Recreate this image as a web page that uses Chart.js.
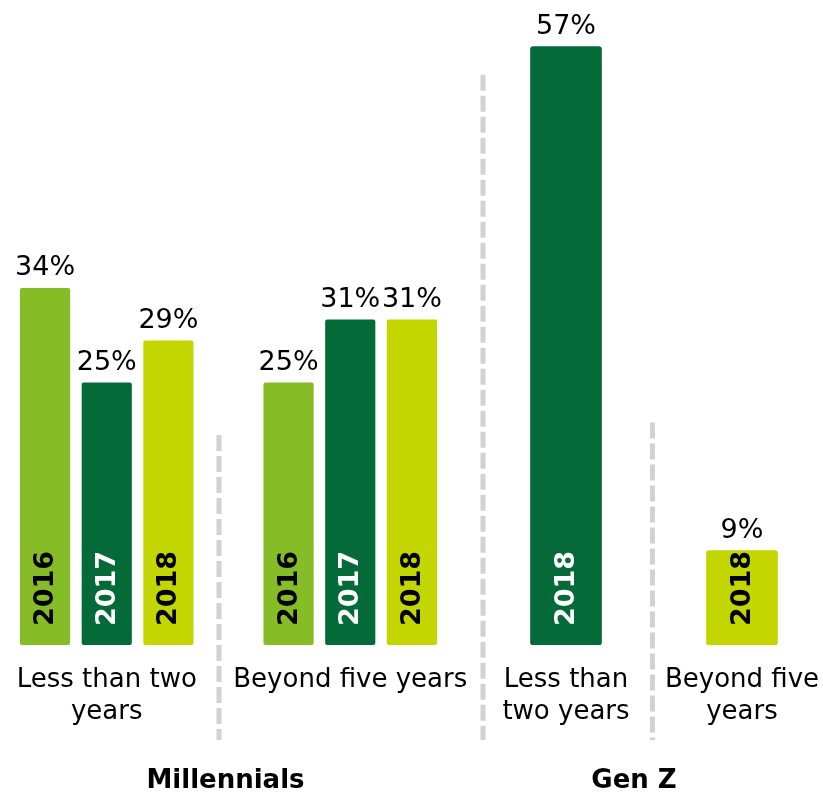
<!DOCTYPE html>
<html>
<head>
<meta charset="utf-8">
<script src="https://cdn.jsdelivr.net/npm/chart.js@4/dist/chart.umd.min.js"></script>
<style>
    body { margin: 0; background: #fff; }
    #wrap { position: relative; width: 823px; height: 794px; overflow: hidden; }
    #wrap canvas { position: absolute; top: 0; }
    #millennials { left: -15px; }
    #genz { left: 478px; }
</style>
</head>
<body>
<div id="wrap">
    <canvas id="millennials" width="487" height="794"></canvas>
    <canvas id="genz" width="352" height="794"></canvas>
</div>
<script>
// Datos
const groupNames = ['Millennials', 'Gen Z'];
const millennialCats = [['Less than two', 'years'], 'Beyond five years'];
const genZCats = [['Less than', 'two years'], ['Beyond five', 'years']];
const years = ['2016', '2017', '2018'];
const millennials2016 = [34, 25];
const millennials2017 = [25, 31];
const millennials2018 = [29, 31];
const genZ2018 = [57, 9];

// Colores
const LIGHT = '#86bc25';
const DARK = '#046a38';
const LIME = '#c4d600';
const FONT = "'DejaVu Sans', Verdana, sans-serif";

Chart.defaults.font.family = FONT;
Chart.defaults.color = '#000';

// Etiquetas de valor y año dentro de las barras
const barText = {
    id: 'barText',
    afterDatasetsDraw(chart) {
        const ctx = chart.ctx;
        chart.data.datasets.forEach((ds, di) => {
            const meta = chart.getDatasetMeta(di);
            meta.data.forEach((bar, i) => {
                const v = ds.data[i];
                if (v == null) return;
                ctx.save();
                ctx.fillStyle = '#000';
                ctx.font = '27px ' + FONT;
                ctx.textAlign = 'center';
                ctx.textBaseline = 'alphabetic';
                ctx.fillText(v + '%', bar.x, bar.y - 13);
                const bg = Array.isArray(ds.backgroundColor) ? ds.backgroundColor[i] : ds.backgroundColor;
                ctx.fillStyle = bg === DARK ? '#fff' : '#000';
                ctx.font = 'bold 27px ' + FONT;
                ctx.translate(bar.x, bar.base - 19);
                ctx.rotate(-Math.PI / 2);
                ctx.textAlign = 'left';
                ctx.textBaseline = 'middle';
                ctx.fillText(ds.label, 0, 1);
                ctx.restore();
            });
        });
    }
};

// Separadores punteados y títulos de grupo
const decor = {
    id: 'decor',
    afterDraw(chart, args, opts) {
        const ctx = chart.ctx;
        const x = chart.scales.x;
        const y = chart.scales.y;
        ctx.save();
        ctx.strokeStyle = '#d2d2d2';
        ctx.lineWidth = 5;
        ctx.setLineDash([16, 5]);
        (opts.separators || []).forEach(s => {
            const px = x.getPixelForValue(s.pos) + s.shift;
            ctx.beginPath();
            ctx.moveTo(px, y.getPixelForValue(s.top));
            ctx.lineTo(px, 740);
            ctx.stroke();
        });
        ctx.setLineDash([]);
        ctx.fillStyle = '#000';
        ctx.font = 'bold 26px ' + FONT;
        ctx.textAlign = 'center';
        ctx.textBaseline = 'middle';
        const cx = (chart.chartArea.left + chart.chartArea.right) / 2 + opts.titleShift;
        ctx.fillText(opts.title, cx, 781);
        ctx.restore();
    }
};

function baseOptions(title, titleShift, separators) {
    return {
        responsive: false,
        animation: false,
        layout: { padding: { top: 15, left: 0, right: 0, bottom: 0 } },
        plugins: {
            legend: { display: false },
            tooltip: { enabled: false },
            decor: { title: title, titleShift: titleShift, separators: separators }
        },
        scales: {
            x: {
                grid: { display: false, drawTicks: false },
                border: { display: false },
                ticks: {
                    font: { size: 26, lineHeight: 1.2 },
                    color: '#000',
                    padding: 20,
                    maxRotation: 0,
                    autoSkip: false
                },
                afterFit: (scale) => {
                    scale.height = 149;
                    scale.paddingLeft = 0;
                    scale.paddingRight = 0;
                }
            },
            y: {
                display: false,
                min: 0,
                max: 60
            }
        }
    };
}

new Chart(document.getElementById('millennials'), {
    type: 'bar',
    data: {
        labels: millennialCats,
        datasets: [
            { label: years[0], data: millennials2016, backgroundColor: LIGHT },
            { label: years[1], data: millennials2017, backgroundColor: DARK },
            { label: years[2], data: millennials2018, backgroundColor: LIME }
        ].map(d => Object.assign(d, {
            categoryPercentage: 0.76,
            barPercentage: 0.813,
            borderRadius: 2,
            borderSkipped: false
        }))
    },
    options: baseOptions(groupNames[0], -3, [{ pos: 0.5, shift: -9.5, top: 20 }]),
    plugins: [barText, decor]
});

new Chart(document.getElementById('genz'), {
    type: 'bar',
    data: {
        labels: genZCats,
        datasets: [{
            label: years[2],
            data: genZ2018,
            backgroundColor: [DARK, LIME],
            barThickness: 71,
            borderRadius: 3,
            borderSkipped: false
        }]
    },
    options: baseOptions(groupNames[1], -20, [
        { pos: -0.5, shift: 5, top: 54.3 },
        { pos: 0.5, shift: -1.5, top: 21.2 }
    ]),
    plugins: [barText, decor]
});
</script>
</body>
</html>
